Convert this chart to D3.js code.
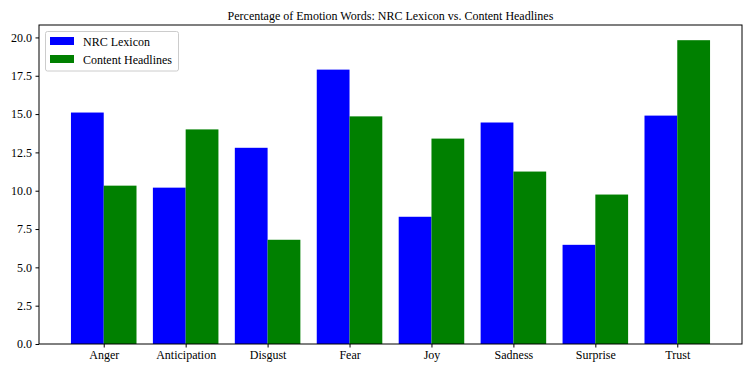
<!DOCTYPE html>
<html>
<head>
<meta charset="utf-8">
<script src="https://cdn.jsdelivr.net/npm/d3@7"></script>
<style>
  html, body { margin: 0; padding: 0; background: #fff; }
  svg { display: block; }
</style>
</head>
<body>
<svg id="chart" width="756" height="374"></svg>
<script>
const categories = ["Anger", "Anticipation", "Disgust", "Fear", "Joy", "Sadness", "Surprise", "Trust"];
const nrcLexicon = [15.1, 10.2, 12.8, 17.9, 8.3, 14.45, 6.47, 14.9];
const contentHeadlines = [10.33, 14.0, 6.8, 14.85, 13.4, 11.25, 9.75, 19.82];
const seriesNames = ["NRC Lexicon", "Content Headlines"];
const seriesColors = ["#0000ff", "#008000"];
const yTicks = [0, 2.5, 5, 7.5, 10, 12.5, 15, 17.5, 20];
const title = "Percentage of Emotion Words: NRC Lexicon vs. Content Headlines";

const FONT = '"Liberation Serif"';
const svg = d3.select("#chart");
const m = { left: 39, right: 742, top: 25, bottom: 344 };
const barW = 0.4;
const n = categories.length;

const xMin = -barW, xMax = (n - 1) + barW;
const pad = (xMax - xMin) * 0.05;
const x = d3.scaleLinear().domain([xMin - pad, xMax + pad]).range([m.left, m.right]);
const yMax = d3.max(nrcLexicon.concat(contentHeadlines)) * 1.05;
const y = d3.scaleLinear().domain([0, yMax]).range([m.bottom, m.top]);

const series = [nrcLexicon, contentHeadlines];
series.forEach((vals, si) => {
  svg.append("g").selectAll("rect").data(vals).join("rect")
    .attr("x", (d, i) => x(i + (si === 0 ? -barW : 0)))
    .attr("width", (d, i) => x(i + barW) - x(i))
    .attr("y", d => y(d))
    .attr("height", d => y(0) - y(d))
    .attr("fill", seriesColors[si]);
});

svg.append("rect")
  .attr("x", m.left).attr("y", m.top)
  .attr("width", m.right - m.left).attr("height", m.bottom - m.top)
  .attr("fill", "none").attr("stroke", "#000").attr("stroke-width", 1);

const xAxis = d3.axisBottom(x)
  .tickValues(d3.range(n))
  .tickFormat(i => categories[i])
  .tickSize(3.5).tickPadding(3);
const gx = svg.append("g").attr("transform", `translate(0,${m.bottom})`).call(xAxis);
gx.select(".domain").remove();
gx.selectAll("text").style("font-family", FONT).style("font-size", "12px").attr("fill", "#000");
gx.selectAll("line").attr("stroke", "#000");

const yAxis = d3.axisLeft(y)
  .tickValues(yTicks)
  .tickFormat(d3.format(".1f"))
  .tickSize(3.5).tickPadding(3.5);
const gy = svg.append("g").attr("transform", `translate(${m.left},0)`).call(yAxis);
gy.select(".domain").remove();
gy.selectAll("text").style("font-family", FONT).style("font-size", "12px").attr("fill", "#000");
gy.selectAll("line").attr("stroke", "#000");

svg.append("text")
  .attr("x", (m.left + m.right) / 2).attr("y", 20)
  .attr("text-anchor", "middle")
  .style("font-family", FONT).style("font-size", "12px").attr("fill", "#000")
  .text(title);

const lg = svg.append("g");
lg.append("rect")
  .attr("x", 45.5).attr("y", 31.5).attr("width", 133).attr("height", 39.5)
  .attr("rx", 2).attr("fill", "#fff").attr("fill-opacity", 0.8)
  .attr("stroke", "#cccccc");
seriesNames.forEach((name, i) => {
  lg.append("rect")
    .attr("x", 50).attr("y", 37 + i * 18).attr("width", 24).attr("height", 8)
    .attr("fill", seriesColors[i]);
  lg.append("text")
    .attr("x", 83).attr("y", 45.5 + i * 18)
    .style("font-family", FONT).style("font-size", "12px").attr("fill", "#000")
    .text(name);
});
</script>
</body>
</html>
